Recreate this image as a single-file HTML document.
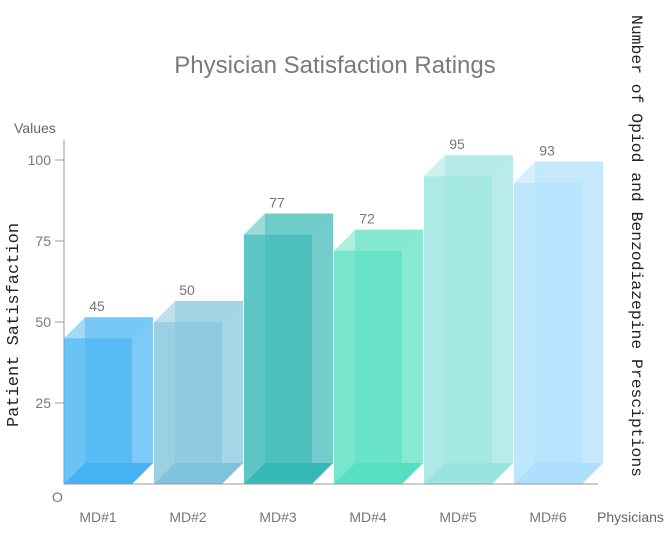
<!DOCTYPE html>
<html><head><meta charset="utf-8"><style>
body{margin:0;background:#fff;}
svg{display:block;font-family:"Liberation Sans",sans-serif;}
</style></head><body>
<svg id="chart" width="672" height="549" viewBox="0 0 672 549">
<text x="335" y="73" text-anchor="middle" font-size="24" fill="#7a7a7a">Physician Satisfaction Ratings</text>
<text x="14" y="133" font-size="14" fill="#666">Values</text>
<text x="597" y="522" font-size="14" fill="#666">Physicians</text>
<text transform="translate(18,325) rotate(-90)" text-anchor="middle" font-family="'Liberation Mono',monospace" font-size="17" fill="#222">Patient Satisfaction</text>
<text transform="translate(632,15) rotate(90)" font-family="'Liberation Mono',monospace" font-size="16" textLength="462" lengthAdjust="spacingAndGlyphs" fill="#222">Number of Opiod and Benzodiazepine Presciptions</text>
<text x="52" y="502" font-size="14" fill="#777">O</text>
<g id="yaxis"></g>
<g id="bars"></g>
<g id="xlabels"></g>
</svg>
<script>
const categories=["MD#1","MD#2","MD#3","MD#4","MD#5","MD#6"];
const values=[45,50,77,72,95,93];
const yTicks=[25,50,75,100];
const colors=["#45b3f2","#7fc4dc","#36b8b6","#55e0c0","#99e3e0","#aee0fc"];
const NS="http://www.w3.org/2000/svg";
const y0=484,pxPer=3.24,x0=64,step=90,bw=68,d=21;
const yS=v=>y0-v*pxPer;
const xS=i=>x0+i*step;
function mk(tag,attrs,parent){const e=document.createElementNS(NS,tag);for(const k in attrs)e.setAttribute(k,attrs[k]);parent.appendChild(e);return e;}
const ya=document.getElementById('yaxis');
let l=mk('line',{x1:x0,y1:140,x2:x0,y2:y0,stroke:'#999','stroke-width':1},ya);


yTicks.forEach(t=>{
  const tk=mk('line',{x1:55,y1:yS(t),x2:x0,y2:yS(t),stroke:'#999'},ya);
  
  
  const tx=mk('text',{x:51,y:yS(t)+5,'text-anchor':'end','font-size':14,fill:'#777'},ya);
  tx.textContent=t;
  
  
});
const bg=document.getElementById('bars');
values.forEach((v,i)=>{
  const x=xS(i),yt=yS(v),c=colors[i];
  const g=mk('g',{},bg);
  
  
  mk('polygon',{points:`${x},${y0} ${x+d},${y0-d} ${x+bw+d},${y0-d} ${x+bw},${y0}`,fill:c,opacity:1},g);
  mk('rect',{x:x+d,y:yt-d,width:bw,height:v*pxPer,fill:c,opacity:0.45},g);
  mk('rect',{x:x,y:yt,width:bw,height:v*pxPer,fill:c,opacity:0.8},g);
  mk('polygon',{points:`${x},${yt} ${x+d},${yt-d} ${x+bw+d},${yt-d} ${x+bw},${yt}`,fill:c,opacity:0.5},g);
  mk('polygon',{points:`${x+bw},${yt} ${x+bw+d},${yt-d} ${x+bw+d},${y0-d} ${x+bw},${y0}`,fill:c,opacity:0.45},g);
  const tx=mk('text',{x:x+d+12,y:yt-d-6,'text-anchor':'middle','font-size':14,fill:'#777'},g);
  tx.textContent=v;
  
  
});
const base=mk('line',{x1:x0,y1:y0,x2:598,y2:y0,stroke:'#999'},bg);


const xl=document.getElementById('xlabels');
categories.forEach((c,i)=>{
  const tx=mk('text',{x:xS(i)+34,y:522,'text-anchor':'middle','font-size':14,fill:'#777'},xl);
  tx.textContent=c;
  
  
});
</script>
</body></html>
